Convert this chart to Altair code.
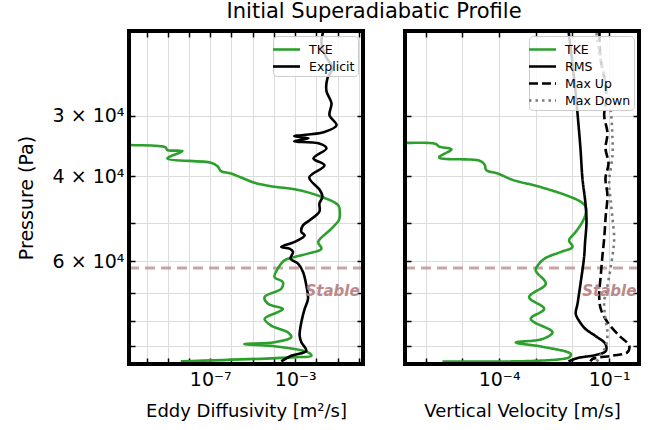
import altair as alt
import pandas as pd

FONT = "DejaVu Sans"

# ---------------- Eddy diffusivity profiles (pressure in Pa, K in m^2/s) ----------------
tke_k_p = [34270, 34460, 34850, 35300, 35470, 36730, 37500, 38120, 39030, 39460,
           41260, 42060, 42550, 44120, 45930, 48180, 49340, 51350, 54730, 56520,
           57870, 58800, 59750, 62180, 64720, 66290, 68440, 71230, 73540, 75330,
           76520, 79030, 81600, 84220, 86260, 88360, 89080, 90060, 92680, 94200,
           94930, 96800]
tke_k = [1e-12, 1.75e-11, 7.9e-10, 9.5e-10, 4.9e-9, 9.5e-10, 1.07e-7, 2.2e-7, 3.2e-7, 9.4e-7,
         1.2e-5, 1.06e-4, 9.4e-4, 0.0171, 0.106, 0.126, 0.113, 0.051, 0.012, 0.0171,
         0.0040, 9.4e-4, 3.1e-4, 1.5e-4, 1.06e-4, 2.6e-4, 2.2e-4, 3.6e-5, 5.2e-5, 2.6e-4,
         1.5e-4, 3.6e-5, 7.4e-5, 4.5e-4, 6.5e-4, 1.06e-4, 4.0e-6, 1.06e-4, 0.0040, 0.0058,
         6.5e-4, 4.1e-9]

explicit_p = [20000, 21180, 22540, 23870, 25050, 26660, 28230, 29900, 31360, 32430,
              33060, 33380, 33860, 34190, 35010, 36730, 37990, 40230, 42610, 44060,
              45560, 47330, 49410, 50540, 52160, 53030, 54730, 56060, 56520, 57410,
              59270, 60700, 63180, 67370, 71800, 75330, 80270, 85600, 88360, 91980,
              94200, 96800]
explicit_k = [0.0213, 0.0171, 0.0265, 0.0569, 0.033, 0.0296, 0.051, 0.041, 0.088, 0.0213,
              9.0e-4, 0.0042, 9.0e-4, 0.0124, 0.0296, 0.0072, 0.0238, 0.0046, 0.0138, 0.0191,
              0.0138, 0.0138, 0.0046, 0.00233, 0.00194, 0.00278, 9.4e-4, 2.2e-4, 5.4e-4, 7.9e-4,
              6.0e-4, 0.00136, 0.00233, 0.00334, 0.0040, 0.00278, 0.00194, 0.00161, 0.00194, 0.00334,
              6.5e-4, 2.2e-4]

# ---------------- Vertical velocity profiles (pressure in Pa, w in m/s) ----------------
tke_w_p = [34070, 34100, 34290, 34730, 35180, 36560, 37140, 37810, 38850, 39460,
           40760, 41900, 43780, 45190, 46290, 47790, 49720, 52160, 54310, 56060,
           57410, 59080, 60700, 62700, 66820, 71230, 75330, 79030, 84220, 86980,
           88440, 90250, 93430, 94930, 96800]
tke_w = [6e-8, 2.87e-7, 1.88e-6, 2.33e-6, 5.0e-6, 2.33e-6, 2.92e-5, 4.0e-5, 4.5e-5, 9.0e-5,
         2.47e-4, 1.05e-3, 6.6e-3, 0.0168, 0.0230, 0.0230, 0.0187, 0.0123, 0.0081, 0.01,
         0.0048, 0.00187, 0.00124, 0.001, 0.00187, 6.6e-4, 1.69e-3, 7.3e-4, 2.85e-3, 1.52e-3,
         2.85e-4, 1.52e-3, 9.0e-3, 0.0081, 2.87e-6]

rms_p = [20000, 25050, 29620, 35010, 40420, 45560, 49660, 55180, 58720, 66290,
         73540, 77150, 79780, 82900, 85720, 89080, 92110, 93880, 95250, 96800]
rms_w = [7.8e-3, 0.0111, 0.0137, 0.0165, 0.0187, 0.0226, 0.0241, 0.0219, 0.0208, 0.0168,
         0.0137, 0.0123, 0.0152, 0.0226, 0.0423, 0.0793, 0.0808, 0.0431, 0.0137, 0.0078]

max_up_p = [20200, 22760, 25050, 27560, 29900, 32590, 35010, 37620, 40420, 43850,
            48180, 53870, 58350, 64220, 70670, 75330, 80270, 85600, 89810, 92680,
            94200, 95690, 96800]
max_up_w = [0.0544, 0.0579, 0.0745, 0.0844, 0.0731, 0.0899, 0.0793, 0.0957, 0.0793, 0.0899,
            0.0808, 0.0731, 0.0657, 0.0590, 0.0534, 0.0590, 0.0899, 0.187, 0.351, 0.315,
            0.123, 0.0351, 0.0309]

max_down_p = [20200, 21700, 23090, 24700, 27180, 29330, 33380, 36210, 41010, 44480,
              48950, 53870, 58430, 67470, 72830, 79030, 84920, 90370, 93880, 95690, 96800]
max_down_w = [0.0451, 0.0511, 0.0579, 0.0731, 0.0899, 0.1106, 0.123, 0.123, 0.1, 0.1085,
              0.123, 0.137, 0.123, 0.0899, 0.0731, 0.0793, 0.0899, 0.0793, 0.0579, 0.0511, 0.0451]

# ---------------- stable layer marker ----------------
stable_p = 62000
stable_text_p = 69300
stable_text_k = 1.08
stable_text_w = 0.55

# ---------------- axes ----------------
p_domain = [20000, 98000]
k_domain = [1.5e-11, 1.55]
w_domain = [2.73e-7, 0.65]

p_ticks = [20000, 30000, 40000, 50000, 60000, 70000, 80000, 90000]
p_tick_labels = {30000: "3 × 10⁴", 40000: "4 × 10⁴", 60000: "6 × 10⁴"}
k_ticks = [1e-10, 1e-9, 1e-8, 1e-7, 1e-6, 1e-5, 1e-4, 1e-3, 1e-2, 1e-1, 1.0]
k_tick_labels = {1e-7: "10⁻⁷", 1e-3: "10⁻³"}
w_ticks = [1e-6, 1e-5, 1e-4, 1e-3, 1e-2, 1e-1]
w_tick_labels = {1e-4: "10⁻⁴", 1e-1: "10⁻¹"}

k_series = ["TKE", "Explicit"]
k_colors = ["#2ca02c", "black"]
w_series = ["TKE", "RMS", "Max Up", "Max Down"]
w_colors = ["#2ca02c", "black", "black", "#7a7a7a"]
w_dashes = [[1, 0], [1, 0], [9, 4], [2.5, 4]]

PANEL_W, PANEL_H = 234, 333
TICK = 6


def label_expr(mapping):
    parts = [f"datum.value == {v!r} ? '{t}'" for v, t in mapping.items()]
    return " : ".join(parts) + " : ''"


def profile(p, v, name):
    return pd.DataFrame({"p": p, "v": v, "series": name, "i": range(len(p))})


def y_main(show_labels, title):
    return alt.Y(
        "p:Q",
        scale=alt.Scale(type="log", domain=p_domain, reverse=True, nice=False),
        axis=alt.Axis(values=p_ticks, labelExpr=label_expr(p_tick_labels), labels=show_labels,
                      grid=True, gridColor="#dcdcdc", gridWidth=1, domain=False,
                      tickSize=TICK, offset=-TICK, tickWidth=1.5, tickColor="black",
                      labelPadding=5, labelFontSize=19, title=title, titleFontSize=19,
                      titleFontWeight="normal", titlePadding=16),
    )


def x_main(ticks, labels, title, domain):
    return alt.X(
        "v:Q",
        scale=alt.Scale(type="log", domain=domain, nice=False),
        axis=alt.Axis(values=ticks, labelExpr=label_expr(labels), grid=True,
                      gridColor="#dcdcdc", gridWidth=1, domain=False,
                      tickSize=TICK, offset=-TICK, tickWidth=1.5, tickColor="black",
                      labelPadding=6, labelFontSize=19, labelFlush=False, title=title,
                      titleFontSize=18, titleFontWeight="normal", titlePadding=13),
    )


def mirror_ticks(df, ticks, domain):
    # inward ticks on the top and right edges
    return alt.Chart(df).mark_point(opacity=0).encode(
        x=alt.X("v:Q", scale=alt.Scale(type="log", domain=domain, nice=False),
                axis=alt.Axis(orient="top", values=ticks, labels=False, grid=False,
                              domain=False, tickSize=TICK, offset=-TICK, tickWidth=1.5,
                              tickColor="black", title=None)),
        y=alt.Y("p:Q", scale=alt.Scale(type="log", domain=p_domain, reverse=True, nice=False),
                axis=alt.Axis(orient="right", values=p_ticks, labels=False, grid=False,
                              domain=False, tickSize=TICK, offset=-TICK, tickWidth=1.5,
                              tickColor="black", title=None)),
    )


frame_df = pd.DataFrame({"f": [0]})


def frame():
    return alt.Chart(frame_df).mark_rect(fillOpacity=0, stroke="black", strokeWidth=4).encode(
        x=alt.value(0), x2=alt.value(PANEL_W), y=alt.value(0), y2=alt.value(PANEL_H))


legend = alt.Legend(title=None, orient="top-right", offset=5, symbolType="M-1.5,0H1.5",
                    symbolSize=324, symbolStrokeWidth=2.6, labelFontSize=12.5,
                    labelOffset=12, padding=3, rowPadding=0, fillColor="rgba(255,255,255,0.8)",
                    strokeColor="#cccccc", cornerRadius=4)

stable_rule = dict(strokeDash=[10, 6], strokeWidth=3, color="#bc8f8f", opacity=0.8)
stable_text = dict(align="right", baseline="middle", fontStyle="italic", fontWeight="bold",
                   fontSize=15, color="#b88484", opacity=0.95, font=FONT)

line_style = dict(clip=True, strokeWidth=2.6, interpolate="catmull-rom")

# ---------------- left panel: eddy diffusivity ----------------
tke_k_df = profile(tke_k_p, tke_k, "TKE")
explicit_df = profile(explicit_p, explicit_k, "Explicit")
xk = x_main(k_ticks, k_tick_labels, "Eddy Diffusivity [m²/s]", k_domain)
yk = y_main(True, "Pressure (Pa)")
ck = alt.Color("series:N", scale=alt.Scale(domain=k_series, range=k_colors), legend=legend)

k_lines = [
    alt.Chart(df).mark_line(**line_style).encode(x=xk, y=yk, color=ck, order="i:Q")
    for df in (tke_k_df, explicit_df)
]
k_rule = alt.Chart(pd.DataFrame({"p": [stable_p]})).mark_rule(**stable_rule).encode(y=yk)
k_text = alt.Chart(pd.DataFrame({"p": [stable_text_p], "v": [stable_text_k], "t": ["Stable"]})
                   ).mark_text(**stable_text).encode(x=xk, y=yk, text="t:N")

left_inner = alt.layer(k_rule, *k_lines, k_text)
left = alt.layer(left_inner, mirror_ticks(explicit_df, k_ticks, k_domain), frame()).resolve_axis(
    x="independent", y="independent").properties(width=PANEL_W, height=PANEL_H)

# ---------------- right panel: vertical velocity ----------------
w_frames = [profile(tke_w_p, tke_w, "TKE"), profile(rms_p, rms_w, "RMS"),
            profile(max_up_p, max_up_w, "Max Up"), profile(max_down_p, max_down_w, "Max Down")]
xw = x_main(w_ticks, w_tick_labels, "Vertical Velocity [m/s]", w_domain)
yw = y_main(False, None)
cw = alt.Color("series:N", scale=alt.Scale(domain=w_series, range=w_colors), legend=legend)
dw = alt.StrokeDash("series:N", scale=alt.Scale(domain=w_series, range=w_dashes), legend=legend)

w_lines = [
    alt.Chart(df).mark_line(**line_style).encode(
        x=xw, y=yw, color=cw, strokeDash=dw, order="i:Q")
    for df in w_frames
]
w_rule = alt.Chart(pd.DataFrame({"p": [stable_p]})).mark_rule(**stable_rule).encode(y=yw)
w_text = alt.Chart(pd.DataFrame({"p": [stable_text_p], "v": [stable_text_w], "t": ["Stable"]})
                   ).mark_text(**stable_text).encode(x=xw, y=yw, text="t:N")

right_inner = alt.layer(w_rule, *w_lines, w_text)
right = alt.layer(right_inner, mirror_ticks(w_frames[1], w_ticks, w_domain), frame()).resolve_axis(
    x="independent", y="independent").properties(width=PANEL_W, height=PANEL_H)

chart = (
    alt.hconcat(left, right, spacing=38)
    .resolve_scale(color="independent", strokeDash="independent", x="independent", y="independent")
    .properties(
        title=alt.TitleParams("Initial Superadiabatic Profile", fontSize=21, font=FONT,
                              fontWeight="normal", anchor="middle", offset=6, dx=45,
                              color="black"),
        padding={"left": 17, "top": 1, "right": 5, "bottom": 5},
        background="white",
    )
    .configure_view(stroke=None)
    .configure_axis(labelFont=FONT, titleFont=FONT, labelColor="black", titleColor="black")
    .configure_legend(labelFont=FONT, labelColor="black")
)

chart.save("out.html", embed_options={"renderer": "svg", "actions": False})
